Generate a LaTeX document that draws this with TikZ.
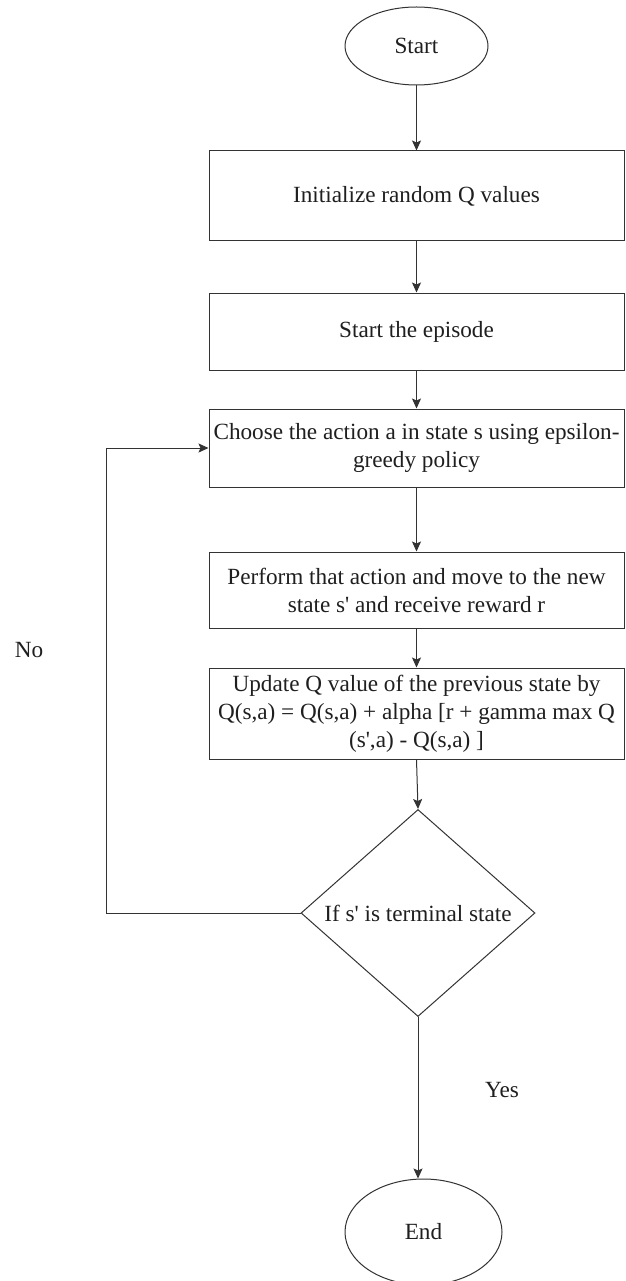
\documentclass[tikz,border=0pt]{standalone}
\usepackage{fontspec}
\setmainfont{Liberation Serif}
\usetikzlibrary{shapes.geometric,arrows.meta}
\newcommand{\sq}{\textquotesingle}
\begin{document}
\begin{tikzpicture}[x=1pt,y=-1pt,
  every node/.style={font=\fontsize{23.2}{28}\selectfont, text=black!88},
  stepbox/.style={draw=black!80, line width=1pt, rectangle, minimum width=415pt, inner sep=0pt, align=center},
  term/.style={draw=black!80, line width=1pt, ellipse, inner sep=0pt},
  decision/.style={draw=black!80, line width=1pt, diamond, inner sep=0pt},
  flow/.style={draw=black!80, line width=1pt, -{Stealth[length=10pt,width=9pt,inset=2pt]}},
]
\clip (0,0) rectangle (625,1281);
\fill[white] (0,0) rectangle (625,1281);

% terminals and process steps
\node[term, minimum width=143pt, minimum height=78pt] (start) at (416.5,46) {Start};
\node[stepbox, minimum height=90pt] (init) at (416.5,196) {Initialize random Q values};
\node[stepbox, minimum height=77pt] (episode) at (416.5,331.5) {Start the episode};
\node[stepbox, minimum height=78pt] (choose) at (416.5,448) {Choose the action a in state s using epsilon-\\greedy policy};
\node[stepbox, minimum height=76pt] (perform) at (416.5,590) {Perform that action and move to the new\\state s\sq{} and receive reward r};
\node[stepbox, minimum height=91pt] (update) at (416.5,713.5) {Update Q value of the previous state by\\Q(s,a) = Q(s,a) + alpha [r + gamma max Q\\(s\sq,a) - Q(s,a) ]};
\node[decision, minimum width=234pt, minimum height=207pt, label={center:If s\sq{} is terminal state}] (dia) at (418,913) {};
\node[term, minimum width=157pt, minimum height=106pt] (end) at (423.5,1232) {End};

% branch labels
\node (no) at (29,650) {No};
\node (yes) at (502,1090) {Yes};

% connectors
\draw[flow] (start) -- (init);
\draw[flow] (init) -- (episode);
\draw[flow] (episode) -- (choose);
\draw[flow] (choose) -- (perform);
\draw[flow] (perform) -- (update);
\draw[flow] (update.south) -- (dia.north);
\draw[flow] (dia.south) -- (dia.south |- end.north);
\coordinate (loopc) at (106,913);
\draw[flow] (dia.west) -- (loopc) |- (choose.west);
\end{tikzpicture}
\end{document}
